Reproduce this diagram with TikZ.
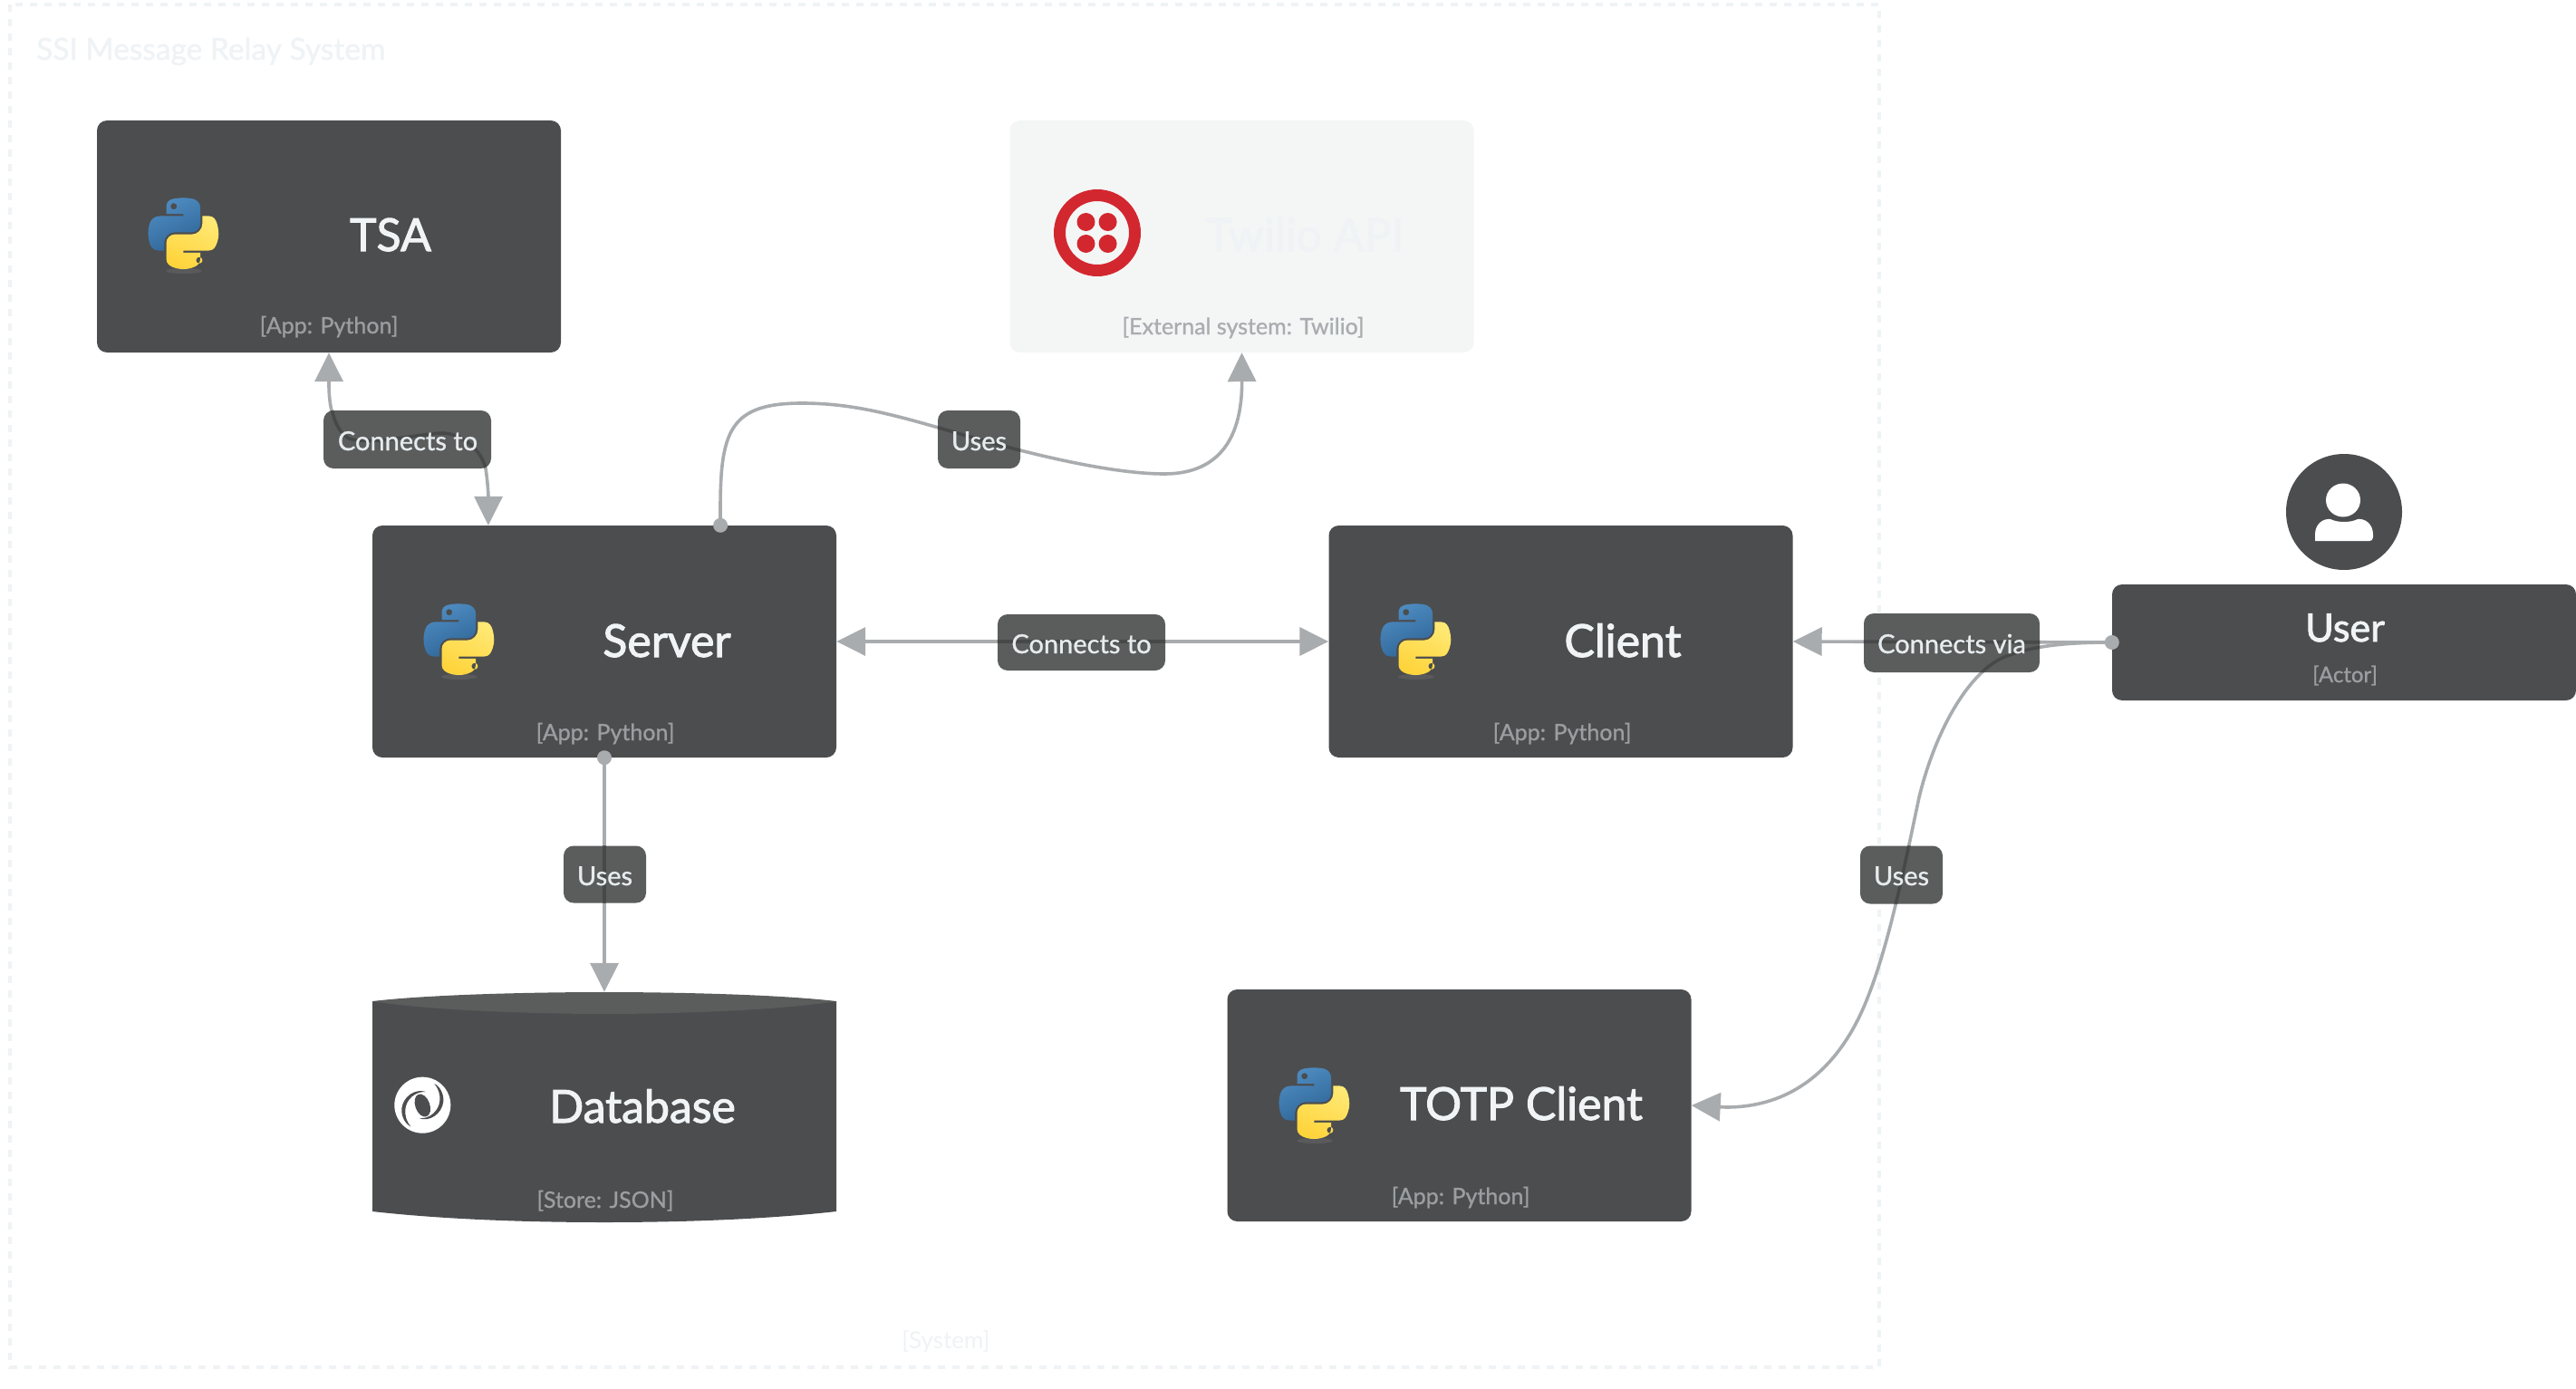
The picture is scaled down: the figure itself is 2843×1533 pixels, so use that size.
\documentclass[tikz,border=0pt]{standalone}
\usepackage{fontspec}
\setmainfont{Lato}
\newfontfamily\lmed[FakeBold=2]{Lato}
\newfontfamily\lsem[FakeBold=1]{Lato}
\usetikzlibrary{arrows.meta,calc,svg.path,shadings}
\definecolor{boxc}{HTML}{4C4D4F}
\definecolor{labc}{HTML}{5B5D5C}
\definecolor{edgec}{HTML}{A9ACAE}
\definecolor{underc}{HTML}{474848}
\definecolor{subc}{HTML}{9A9EA1}
\definecolor{titlec}{HTML}{F0F4F6}
\definecolor{ghost}{HTML}{EFF3F5}
\definecolor{ghostb}{HTML}{F4F6F6}
\definecolor{labt}{HTML}{E6ECEE}
\definecolor{twred}{HTML}{D3272F}
\definecolor{HBL}{HTML}{4F8DC2}
\definecolor{HBR}{HTML}{2F6597}
\definecolor{HYL}{HTML}{FFE873}
\definecolor{HYR}{HTML}{FFD43B}
\newcommand{\fs}[1]{\fontsize{#1}{#1}\selectfont}
\tikzset{
  boxn/.style={rectangle,rounded corners=11pt,inner sep=0pt,minimum width=512pt,minimum height=256pt,fill=boxc},
  ttl/.style={anchor=base,inner sep=0pt,text=titlec,font=\lmed\fs{50}},
  subl/.style={anchor=base,inner sep=0pt,text=subc,font=\lsem\fs{25}},
  lab/.style={rectangle,rounded corners=11pt,inner sep=0pt,fill=labc},
  labtxt/.style={anchor=base,inner sep=0pt,text=labt,font=\lsem\fs{29}},
  edge/.style={draw=edgec,line width=3.6pt},
  under/.style={draw=underc,line width=3.6pt},
  dotp/.style={fill=edgec},
  tipt/.tip={Triangle[length=32pt,width=31pt,fill=edgec]},
  pylogo/.pic={
    \begin{scope}[xscale=.70,yscale=-.70,shift={(-56.5,55.2)}]
      \shade[even odd rule,left color=HBL,right color=HBR,shading angle=25] svg {M 54.92,0 C 50.34,0.02 45.96,0.41 42.11,1.09 C 30.76,3.10 28.70,7.29 28.70,15.03 v 10.22 h 26.81 v 3.41 h -26.81 h -10.06 c -7.79,0 -14.62,4.68 -16.75,13.59 c -2.46,10.21 -2.57,16.59 0,27.25 c 1.91,7.94 6.46,13.59 14.25,13.59 h 9.22 v -12.25 c 0,-8.85 7.66,-16.66 16.75,-16.66 h 26.78 c 7.45,0 13.41,-6.14 13.41,-13.63 v -25.53 c 0,-7.27 -6.13,-12.72 -13.41,-13.94 C 64.28,0.33 59.50,-0.02 54.92,0 z m -14.5,8.22 c 2.77,0 5.03,2.30 5.03,5.12 c 0,2.82 -2.26,5.09 -5.03,5.09 c -2.78,0 -5.03,-2.28 -5.03,-5.09 c 0,-2.83 2.25,-5.12 5.03,-5.12 z};
      \shade[even odd rule,left color=HYL,right color=HYR,shading angle=-25] svg {M 85.64,28.66 v 11.91 c 0,9.23 -7.83,17 -16.75,17 h -26.78 c -7.34,0 -13.41,6.28 -13.41,13.63 v 25.53 c 0,7.27 6.32,11.54 13.41,13.63 c 8.49,2.50 16.63,2.95 26.78,0 c 6.75,-1.95 13.41,-5.89 13.41,-13.63 v -10.22 h -26.78 v -3.41 h 26.78 h 13.41 c 7.79,0 10.70,-5.44 13.41,-13.59 c 2.80,-8.40 2.74,-16.48 0,-27.25 c -1.93,-7.76 -5.60,-13.59 -13.41,-13.59 z m -15.06,64.66 c 2.78,0 5.03,2.28 5.03,5.09 c 0,2.83 -2.25,5.13 -5.03,5.13 c -2.77,0 -5.03,-2.30 -5.03,-5.13 c 0,-2.82 2.26,-5.09 5.03,-5.09 z};
    \end{scope}
    \fill[white,opacity=.08] (0,42) ellipse [x radius=20pt,y radius=3pt];
  }
}
\newcommand{\edgeA}{(tsa.south) .. controls (363,430) and (362,470) .. (385,484) .. controls (410,492) and (465,478) .. (490,478) .. controls (515,480) and (532,500) .. (536,517) .. controls (538,530) and (539,545) .. (srvL)}
\newcommand{\edgeB}{(srvR) .. controls (794,480) and (800,445) .. (885,445) .. controls (950,445) and (1000,462) .. (1081,485) .. controls (1170,510) and (1240,523) .. (1285,523) .. controls (1340,523) and (1371,490) .. (twilio.south)}
\newcommand{\edgeC}{(server.east) -- (client.west)}
\newcommand{\edgeD}{(server.south) -- (db.north)}
\newcommand{\edgeE}{(user.west) -- (client.east)}
\newcommand{\edgeF}{(user.west) .. controls (2290,709) and (2245,711) .. (2210,726) .. controls (2170,745) and (2135,810) .. (2118,880) .. controls (2100,965) and (2085,1040) .. (2062,1099) .. controls (2035,1170) and (1985,1222) .. (1905,1222) -- (totp.east)}
\newcommand{\underlab}[2]{\begin{scope}\clip[rounded corners=11pt] (#1.south west) rectangle (#1.north east);\draw[under] #2;\end{scope}}
\begin{document}
\begin{tikzpicture}[x=1pt,y=-1pt]
\useasboundingbox[fill=white] (0,0) rectangle (2843,1533);
% system boundary
\draw[ghost,line width=4pt,dash pattern=on 8pt off 8pt] (11,5) rectangle (2074,1509);
\node[anchor=base west,inner sep=0pt,text=ghost,font=\lsem\fs{33.5}] (systitle) at (40,66) {SSI Message Relay System};
\node[anchor=base,inner sep=0pt,text=ghost,font=\fs{26}] (systag) at (1044,1488) {[System]};
% nodes
\node[boxn] (tsa) at (363,261) {};
\node[boxn,fill=ghostb] (twilio) at (1370.5,261) {};
\node[boxn] (server) at (667,708) {};
\node[boxn] (client) at (1722.5,708) {};
\node[boxn] (totp) at (1610.5,1220) {};
\node[boxn,minimum width=512pt,minimum height=128pt] (user) at (2587,709) {};
\node[rectangle,inner sep=0pt,minimum width=512pt,minimum height=254pt] (db) at (667,1222) {};
\coordinate (srvL) at ($(server.north west)!.25!(server.north east)$);
\coordinate (srvR) at ($(server.north west)!.75!(server.north east)$);
% database cylinder
\fill[boxc] (411,1105) -- (411,1337) .. controls (500,1347) and (600,1349) .. (667,1349) .. controls (734,1349) and (834,1347) .. (923,1337) -- (923,1105) -- cycle;
\fill[labc] (411,1105) .. controls (480,1097) and (600,1095) .. (667,1095) .. controls (734,1095) and (854,1097) .. (923,1105) .. controls (854,1116) and (734,1119) .. (667,1119) .. controls (600,1119) and (480,1116) .. (411,1105) -- cycle;
% actor icon
\fill[boxc] (2587,565) circle [radius=64pt];
\fill[white] (2586,552) ellipse [x radius=19pt,y radius=18.5pt];
\fill[white] (2555,597) -- (2555,590) .. controls (2555,578) and (2564,572) .. (2572,573) .. controls (2580,577) and (2594,577) .. (2602,573) .. controls (2610,572) and (2619,578) .. (2619,590) -- (2619,593) .. controls (2619,596) and (2617,597) .. (2615,597) -- cycle;
% edges
\path[edge,tipt-tipt] \edgeA;
\path[edge,-tipt] \edgeB;
\path[edge,tipt-tipt] \edgeC;
\path[edge,-tipt] \edgeD;
\path[edge,-tipt] \edgeE;
\path[edge,-tipt] \edgeF;
\fill[dotp] (srvR) circle [radius=8pt];
\fill[dotp] (server.south) circle [radius=8pt];
\fill[dotp] (user.west) circle [radius=8pt];
% labels
\node[lab,minimum width=185pt,minimum height=64pt] (la) at (449.5,485) {};
\node[lab,minimum width=91pt,minimum height=64pt] (lb) at (1080.5,485) {};
\node[lab,minimum width=185pt,minimum height=62pt] (lc) at (1193.5,709) {};
\node[lab,minimum width=91pt,minimum height=63pt] (ld) at (667.5,965) {};
\node[lab,minimum width=194pt,minimum height=65pt] (le) at (2154,709.5) {};
\node[lab,minimum width=91pt,minimum height=64pt] (lf) at (2098.5,965.5) {};
\underlab{la}{\edgeA}
\underlab{lb}{\edgeB}
\underlab{lc}{\edgeC}
\underlab{ld}{\edgeD}
\underlab{le}{\edgeE}
\underlab{le}{\edgeF}
\underlab{lf}{\edgeF}
\node[labtxt] (lat) at (450,497) {Connects to};
\node[labtxt] (lbt) at (1080.5,497) {Uses};
\node[labtxt] (lct) at (1193.5,721) {Connects to};
\node[labtxt] (ldt) at (667.5,977) {Uses};
\node[labtxt] (let) at (2154,721) {Connects via};
\node[labtxt] (lft) at (2098.5,977) {Uses};
% node texts
\node[ttl] (t1) at (431,277) {TSA};
\node[subl] (s1) at (363,368) {[App: Python]};
\node[ttl,text=ghost] (t2) at (1440,277) {Twilio API};
\node[subl,text=subc!85!white] (s2) at (1372,369) {[External system: Twilio]};
\node[ttl] (t3) at (736,725) {Server};
\node[subl] (s3) at (668,817) {[App: Python]};
\node[ttl] (t4) at (1791,725) {Client};
\node[subl] (s4) at (1724,817) {[App: Python]};
\node[ttl] (t5) at (709,1239) {Database};
\node[subl] (s5) at (668,1333) {[Store: JSON]};
\node[ttl] (t6) at (1679,1236) {TOTP Client};
\node[subl] (s6) at (1612,1329) {[App: Python]};
\node[ttl,font=\lmed\fs{43}] (t7) at (2588,708) {User};
\node[subl,font=\lsem\fs{24}] (s7) at (2588,753) {[Actor]};
% icons
\pic at (203,257) {pylogo};
\pic at (507,705) {pylogo};
\pic at (1563,705) {pylogo};
\pic at (1451,1217) {pylogo};
% twilio logo
\fill[twred,even odd rule] (1211,257) circle [radius=48pt] (1211,257) circle [radius=35pt];
\foreach \a/\b in {1198.5/245,1222.6/245,1198.5/269,1222.6/269}{\fill[twred] (\a,\b) circle [radius=10pt];}
% swirl logo
\begin{scope}[shift={(425,1175)},x=.3333pt,y=-.3333pt]
\fill[white] (124,134) circle [radius=31pt];
\fill[boxc,rotate around={20:(124,135)}] (124,135) ellipse [x radius=8pt,y radius=13pt];
\fill[boxc] (135,90) .. controls (100,78) and (60,105) .. (55,145) .. controls (53,170) and (65,195) .. (85,205) .. controls (72,190) and (65,170) .. (67,148) .. controls (70,115) and (100,88) .. (135,90) -- cycle;
\fill[boxc] (113,178) .. controls (148,190) and (188,163) .. (193,123) .. controls (195,98) and (183,73) .. (163,63) .. controls (176,78) and (183,98) .. (181,120) .. controls (178,153) and (148,180) .. (113,178) -- cycle;
\end{scope}
\end{tikzpicture}
\end{document}
